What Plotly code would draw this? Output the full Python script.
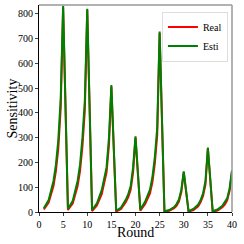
import plotly.graph_objects as go

rounds = [1, 2, 3, 3.5, 4, 4.5, 5,
          6, 7, 8, 8.5, 9, 9.5, 10,
          11, 12, 13, 13.5, 14, 14.5, 15,
          16, 17, 18, 18.5, 19, 19.5, 20,
          21, 22, 23, 23.5, 24, 24.5, 25,
          26, 27, 28, 28.5, 29, 29.5, 30,
          31, 32, 33, 33.5, 34, 34.5, 35,
          36, 37, 38, 38.5, 39, 39.5, 40]

esti = [15, 48, 125, 190, 290, 460, 832,
        13, 45, 125, 190, 300, 450, 820,
        8, 35, 88, 130, 180, 300, 512,
        5, 18, 50, 72, 105, 180, 305,
        10, 42, 90, 140, 220, 340, 728,
        3, 8, 20, 32, 50, 90, 164,
        3, 12, 30, 48, 75, 125, 260,
        3, 10, 25, 38, 55, 95, 168]

real = [10, 38, 105, 165, 255, 420, 825,
        8, 35, 105, 165, 265, 410, 815,
        4, 26, 72, 110, 160, 270, 505,
        2, 12, 40, 60, 90, 160, 300,
        5, 32, 75, 120, 195, 310, 722,
        1, 5, 15, 25, 42, 80, 160,
        1, 8, 23, 40, 65, 110, 255,
        1, 6, 19, 30, 47, 85, 165]

x_ticks = [0, 5, 10, 15, 20, 25, 30, 35, 40]
y_ticks = [0, 100, 200, 300, 400, 500, 600, 700, 800]

serif = "Liberation Serif"

fig = go.Figure()
fig.add_trace(go.Scatter(x=rounds, y=real, mode="lines", name="Real",
                         line=dict(color="#ff0000", width=2)))
fig.add_trace(go.Scatter(x=rounds, y=esti, mode="lines", name="Esti",
                         line=dict(color="#008000", width=2)))

fig.update_layout(
    width=244, height=244,
    margin=dict(l=39, r=12, t=5, b=32, autoexpand=False),
    paper_bgcolor="white", plot_bgcolor="white",
    font=dict(family=serif, color="black", size=10),
    showlegend=True,
    legend=dict(x=0.979, y=0.968, xanchor="right", yanchor="top",
                bgcolor="rgba(255,255,255,0.8)", bordercolor="#dddddd",
                borderwidth=1, font=dict(family=serif, size=10),
                itemwidth=30, tracegroupgap=0),
    xaxis=dict(range=[0, 40], tickvals=x_ticks, ticks="outside", ticklen=3,
               showgrid=False, zeroline=False, showline=True, linecolor="black",
               linewidth=1, automargin=False,
               tickfont=dict(family=serif, size=10)),
    yaxis=dict(range=[0, 835], tickvals=y_ticks, ticks="outside", ticklen=3,
               showgrid=False, zeroline=False, showline=True, linecolor="black",
               linewidth=1, automargin=False,
               tickfont=dict(family=serif, size=10)),
    annotations=[
        dict(text="Round", xref="paper", yref="paper", x=0.5, y=0, yshift=-20,
             xanchor="center", yanchor="middle", showarrow=False,
             font=dict(family=serif, size=14)),
        dict(text="Sensitivity", xref="paper", yref="paper", x=0, xshift=-27,
             y=0.5, xanchor="center", yanchor="middle", textangle=-90,
             showarrow=False, font=dict(family=serif, size=14)),
    ],
    shapes=[
        dict(type="line", xref="paper", yref="paper", x0=0, x1=1, y0=1, y1=1,
             line=dict(color="#999999", width=1.5)),
        dict(type="line", xref="paper", yref="paper", x0=1, x1=1, y0=0, y1=1,
             line=dict(color="#999999", width=1.5)),
    ],
)

fig.write_html("out.html", config={"displayModeBar": False},
               post_script="document.body.style.margin='0';document.body.style.padding='0';")
